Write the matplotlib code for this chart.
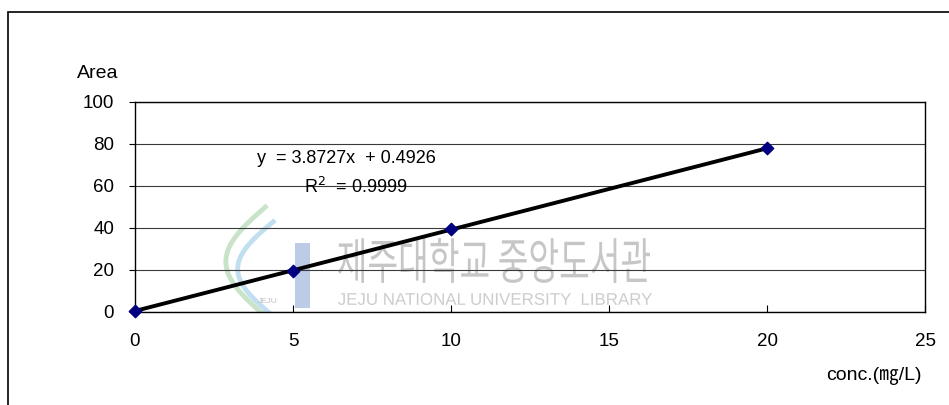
import matplotlib
matplotlib.use('Agg')
import matplotlib.pyplot as plt
from matplotlib.patches import Rectangle, PathPatch
from matplotlib.textpath import TextPath
from matplotlib.font_manager import FontProperties
from matplotlib.transforms import Affine2D, IdentityTransform
import numpy as np

# calibration data: concentration vs peak area
conc = [0, 5, 10, 20]
area = [0.69, 19.46, 39.42, 77.95]

# trend line coefficients as shown on the chart
slope = 3.8727
intercept = 0.4926
r_squared = 0.9999

x_ticks = [0, 5, 10, 15, 20, 25]
y_ticks = [0, 20, 40, 60, 80, 100]

plt.rcParams['font.family'] = ['Liberation Sans', 'Noto Sans CJK KR', 'DejaVu Sans']

W, H = 949, 405
fig = plt.figure(figsize=(W / 100, H / 100), dpi=100)


def stretched_text(s, x0, y0, width, height, family, color):
    # draw text as a path squeezed into a given pixel box (x0, y0 = top-left)
    tp = TextPath((0, 0), s, size=100, prop=FontProperties(family=family))
    ext = tp.get_extents()
    tr = (Affine2D().translate(-ext.x0, -ext.y0)
          .scale(width / ext.width, height / ext.height)
          .translate(x0, H - y0 - height))
    fig.add_artist(PathPatch(tr.transform_path(tp), transform=IdentityTransform(),
                             facecolor=color, edgecolor='none', zorder=-1))


# chart area border (runs off the right and bottom edges)
fig.patches.append(Rectangle((8 / W, -0.1), 1.2, 1 - 12 / H + 0.1,
                             transform=fig.transFigure, fill=False,
                             edgecolor='black', linewidth=1.2))

ax = fig.add_axes([135 / W, 1 - 312 / H, 790 / W, 210 / H])
ax.patch.set_alpha(0)
ax.set_xlim(0, 25)
ax.set_ylim(0, 100)
ax.set_xticks(x_ticks)
ax.set_yticks(y_ticks)
ax.tick_params(axis='x', direction='in', length=5, pad=15, labelsize=13.5)
ax.tick_params(axis='y', direction='out', length=4, pad=11, labelsize=13.5)
for s in ax.spines.values():
    s.set_linewidth(1.0)
    s.set_color('black')
ax.yaxis.grid(True, color='#3a3a3a', linewidth=0.8)
ax.set_axisbelow(True)

# library watermark
stretched_text('제주대학교 중앙도서관', 338, 238, 312, 45, 'Noto Sans CJK KR', '#c6c6c6')
stretched_text('JEJU NATIONAL UNIVERSITY  LIBRARY', 338, 293, 314, 12,
               'Liberation Sans', '#cdcdcd')
ax.add_patch(Rectangle((0.202, 0.02), 0.019, 0.31, transform=ax.transAxes,
                       facecolor='#bccbe6', edgecolor='none', zorder=0))
t = np.linspace(0, 1, 40)
ax.plot(0.165 - 0.05 * np.sin(np.pi * t), -0.02 + 0.52 * t, transform=ax.transAxes,
        color='#c4e0c4', linewidth=3.5, alpha=0.9, zorder=0)
ax.plot(0.175 - 0.045 * np.sin(np.pi * t), -0.02 + 0.45 * t, transform=ax.transAxes,
        color='#bcdcef', linewidth=3.5, alpha=0.9, zorder=0)
ax.text(0.168, 0.05, 'JEJU', transform=ax.transAxes, fontsize=6,
        color='#c0c0c0', ha='center', va='center', zorder=0)

# trend line
xl = np.array([min(conc), max(conc)])
ax.plot(xl, slope * xl + intercept, color='black', linewidth=2.8, zorder=3,
        clip_on=False)

ax.scatter(conc, area, marker='D', s=40, color='#000080', zorder=4,
           clip_on=False)

ax.text(3.85, 73.3, 'y  = %.4fx  + %.4f' % (slope, intercept), fontsize=13,
        ha='left', va='center')
ax.text(5.35, 59.5, 'R$^2$  = %.4f' % r_squared, fontsize=13,
        ha='left', va='center')

fig.text(77 / W, 1 - 74 / H, 'Area', fontsize=14, ha='left', va='center')
fig.text(922 / W, 1 - 376 / H, 'conc.(㎎/L)', fontsize=14, ha='right', va='center')

fig.savefig('out.png', dpi=100)
